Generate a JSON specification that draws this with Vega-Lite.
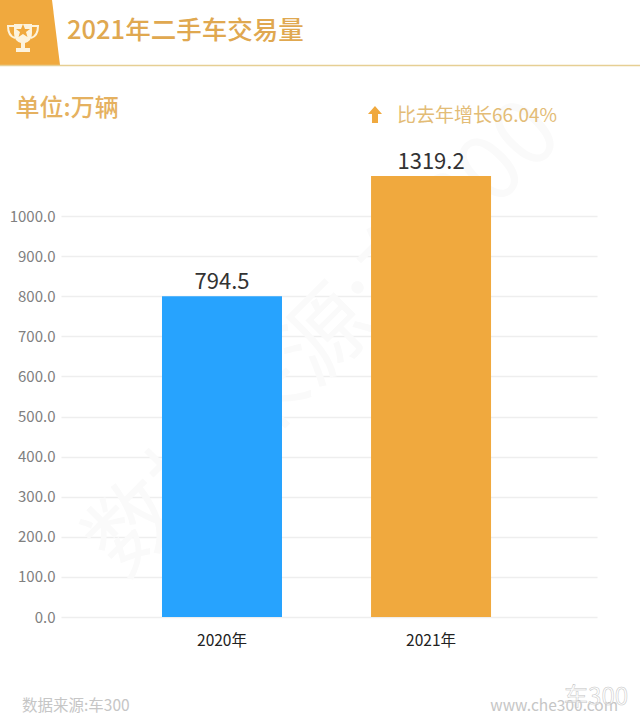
{
  "$schema": "https://vega.github.io/schema/vega-lite/v6.json",
  "width": 536,
  "height": 441,
  "autosize": {"type": "none"},
  "padding": {"left": 61, "top": 176, "right": 43, "bottom": 108},
  "background": "#ffffff",
  "title": {
    "text": "2021年二手车交易量",
    "anchor": "start",
    "frame": "group",
    "dx": 6,
    "offset": -44,
    "font": "Noto Sans CJK SC",
    "fontSize": 25.5,
    "fontWeight": 500,
    "color": "#e0a850"
  },
  "layer": [
    {
      "data": {"values": [{}]},
      "mark": {"type": "text", "angle": -45, "dx": 73, "dy": 73, "font": "Noto Sans CJK SC", "fontSize": 90, "color": "#fafafa"},
      "encoding": {
        "x": {
          "datum": "2020年",
          "type": "nominal",
          "title": null,
          "scale": {"domain": ["2020年", "2021年"], "paddingInner": 0.426, "paddingOuter": 0.495, "align": 0.488},
          "axis": {"title": null, "grid": false, "labelAngle": 0, "labelAlign": "center", "labelBaseline": "top", "ticks": false, "domain": false, "labelPadding": 16, "labelFontSize": 15.5, "labelColor": "#222222", "labelFont": "Noto Sans CJK SC"}
        },
        "y": {
          "datum": 691,
          "type": "quantitative",
          "scale": {"domain": [0, 1100], "nice": false},
          "axis": {
            "title": "单位:万辆",
            "titleAngle": 0,
            "titleX": -46,
            "titleY": -68,
            "titleAlign": "left",
            "titleBaseline": "middle",
            "titleFont": "Noto Sans CJK SC",
            "titleFontSize": 24,
            "titleFontWeight": 500,
            "titleColor": "#e5b160",
            "values": [0, 100, 200, 300, 400, 500, 600, 700, 800, 900, 1000],
            "format": ".1f",
            "grid": true,
            "ticks": false,
            "domain": false,
            "labelPadding": 6,
            "labelFontSize": 15,
            "labelColor": "#808080",
            "labelFont": "Noto Sans CJK SC",
            "gridColor": "#eeeeee",
            "gridWidth": 1.5
          }
        },
        "text": {"value": "数据来源:车300"}
      }
    },
    {
      "data": {"values": [{"year": "2020年", "value": 794.5, "plotted": 800}, {"year": "2021年", "value": 1319.2, "plotted": 1100}]},
      "mark": {"type": "bar", "width": 120},
      "encoding": {
        "x": {"field": "year", "type": "nominal", "title": null},
        "y": {"field": "plotted", "type": "quantitative"},
        "color": {"field": "year", "type": "nominal", "legend": null, "scale": {"domain": ["2020年", "2021年"], "range": ["#27a3fe", "#f0a93e"]}}
      }
    },
    {
      "data": {"values": [{"year": "2020年", "value": 794.5, "plotted": 800}, {"year": "2021年", "value": 1319.2, "plotted": 1100}]},
      "mark": {"type": "text", "baseline": "bottom", "dy": -2, "font": "Noto Sans CJK SC", "fontSize": 22, "color": "#333333"},
      "encoding": {
        "x": {"field": "year", "type": "nominal", "title": null},
        "y": {"field": "plotted", "type": "quantitative"},
        "text": {"field": "value", "type": "quantitative", "format": ".1f"}
      }
    },
    {
      "data": {"values": [{}]},
      "mark": {"type": "point", "shape": "M-222 0 L-170 0 L-162 65 L-222 65 Z", "size": 4, "filled": true, "opacity": 1, "color": "#f0a93e"},
      "encoding": {"x": {"datum": "2020年", "type": "nominal"}, "y": {"datum": 1539, "type": "quantitative"}}
    },
    {
      "data": {"values": [{}]},
      "mark": {"type": "point", "shape": "M-222 65.5 L418 65.5", "size": 4, "filled": false, "opacity": 1, "color": "#e6cf94", "strokeWidth": 1.5},
      "encoding": {"x": {"datum": "2020年", "type": "nominal"}, "y": {"datum": 1539, "type": "quantitative"}}
    },
    {
      "data": {"values": [{}]},
      "mark": {"type": "point", "shape": "M-208 24 H-190 V33 Q-190 41 -197 43 V48 H-192 V52 H-206 V48 H-201 V43 Q-208 41 -208 33 Z", "size": 4, "filled": true, "opacity": 1, "color": "#fdf3dd"},
      "encoding": {"x": {"datum": "2020年", "type": "nominal"}, "y": {"datum": 1539, "type": "quantitative"}}
    },
    {
      "data": {"values": [{}]},
      "mark": {"type": "point", "shape": "M-208 26 H-214 Q-214 36 -207 38 M-190 26 H-184 Q-184 36 -191 38", "size": 4, "filled": false, "opacity": 1, "color": "#fdf3dd", "strokeWidth": 2},
      "encoding": {"x": {"datum": "2020年", "type": "nominal"}, "y": {"datum": 1539, "type": "quantitative"}}
    },
    {
      "data": {"values": [{}]},
      "mark": {"type": "point", "shape": "M-199 24 L-197 29 L-192 29 L-196 32 L-194.5 37 L-199 34 L-203.5 37 L-202 32 L-206 29 L-201 29 Z", "size": 4, "filled": true, "opacity": 1, "color": "#f0a93e"},
      "encoding": {"x": {"datum": "2020年", "type": "nominal"}, "y": {"datum": 1539, "type": "quantitative"}}
    },
    {
      "data": {"values": [{}]},
      "mark": {"type": "point", "shape": "M153 106 L160 114 H156 V123 H150 V114 H146 Z", "size": 4, "filled": true, "opacity": 1, "color": "#f0a93e"},
      "encoding": {"x": {"datum": "2020年", "type": "nominal"}, "y": {"datum": 1539, "type": "quantitative"}}
    },
    {
      "data": {"values": [{}]},
      "mark": {"type": "text", "align": "left", "dx": -34, "font": "Noto Sans CJK SC", "fontSize": 19, "color": "#e3bc76"},
      "encoding": {"x": {"datum": "2021年", "type": "nominal"}, "y": {"datum": 1250, "type": "quantitative"}, "text": {"value": "比去年增长66.04%"}}
    },
    {
      "data": {"values": [{}]},
      "mark": {"type": "text", "align": "left", "dx": -200, "font": "Noto Sans CJK SC", "fontSize": 15.5, "color": "#c6c6c6"},
      "encoding": {"x": {"datum": "2020年", "type": "nominal"}, "y": {"datum": -222, "type": "quantitative"}, "text": {"value": "数据来源:车300"}}
    },
    {
      "data": {"values": [{}]},
      "mark": {"type": "text", "align": "right", "dx": 187, "font": "Noto Sans CJK SC", "fontSize": 15.5, "color": "#c6c6c6"},
      "encoding": {"x": {"datum": "2021年", "type": "nominal"}, "y": {"datum": -222, "type": "quantitative"}, "text": {"value": "www.che300.com"}}
    },
    {
      "data": {"values": [{}]},
      "mark": {"type": "text", "align": "right", "dx": 197, "font": "Noto Sans CJK SC", "fontSize": 24, "color": "#ffffff", "stroke": "#c4c4c4", "strokeWidth": 0.5, "fillOpacity": 0.4},
      "encoding": {"x": {"datum": "2021年", "type": "nominal"}, "y": {"datum": -203, "type": "quantitative"}, "text": {"value": "车300"}}
    }
  ],
  "config": {"view": {"stroke": null}}
}
